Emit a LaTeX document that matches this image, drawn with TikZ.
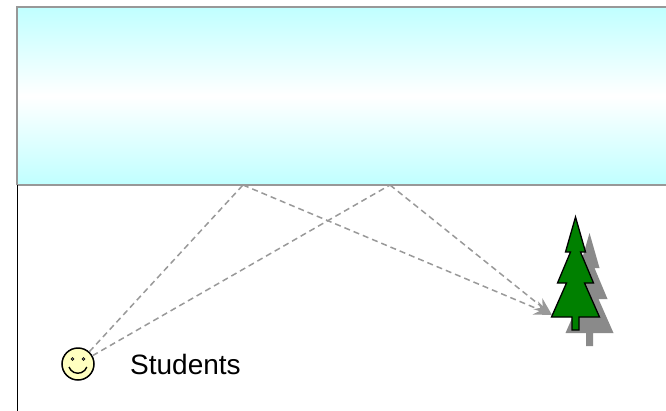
\documentclass[tikz,border=0pt]{standalone}
\usepackage{fontspec}
\newfontfamily\labelfont{Liberation Sans}
\usetikzlibrary{arrows.meta}
\definecolor{skycyan}{HTML}{C0FFFF}
\definecolor{framegray}{HTML}{989898}
\definecolor{raygray}{HTML}{999999}
\definecolor{shadowgray}{HTML}{8A8A8A}
\definecolor{pinegreen}{HTML}{008000}
\definecolor{faceyellow}{HTML}{FFFFC0}
\tikzset{
  ray/.style={draw=raygray, dashed, dash pattern=on 6pt off 4pt, line width=1.5pt},
  raytip/.style={-{Stealth[length=18pt,width=14pt,inset=6pt,fill=raygray]}},
  pine/.pic={
    \path[pic actions] (0,0) -- (10,35) -- (5,35) -- (18,66) -- (9,66) -- (24,100)
      -- (3.5,100) -- (3.5,113) -- (-3.5,113) -- (-3.5,100) -- (-24,100)
      -- (-9,66) -- (-18,66) -- (-5,35) -- (-10,35) -- cycle;
  },
  face/.style={circle, draw=black, line width=1.5pt, fill=faceyellow,
    minimum size=32pt, inner sep=0pt},
  label text/.style={font=\labelfont\fontsize{28}{32}\selectfont, inner sep=0pt},
}
\begin{document}
\begin{tikzpicture}[x=1pt,y=-1pt]
  \useasboundingbox (0,0) rectangle (666,410);
  \begin{scope}
    \clip (0,0) rectangle (666,410);
    % sky band
    \shade[top color=skycyan, bottom color=skycyan, middle color=white]
      (17,7) rectangle (680,185);
    \draw[framegray, line width=1.5pt] (17,185) -- (17,7) -- (680,7);
    \draw[framegray, line width=1.2pt] (17,185) -- (680,185);
    % ground edge
    \draw[black, line width=1.5pt] (17.5,185) -- (17.5,420);
  \end{scope}

  % tree with its shadow
  \pic[fill=shadowgray] at (589.5,233) {pine};
  \pic[fill=pinegreen, draw=black, line width=1.3pt, line join=miter] at (575.5,217) {pine};

  % student
  \node[face] (stud) at (78,364) {};
  \filldraw[fill=gray, line width=0.6pt] (72.5,359) circle (1.5pt);
  \filldraw[fill=gray, line width=0.6pt] (83.5,359) circle (1.5pt);
  \draw[line width=1.4pt] (69,367) arc[start angle=200, end angle=340, radius=9.5pt];
  \node[label text, anchor=base west] (studlabel) at (130,374) {Students};

  % reflection points and target
  \coordinate (r1) at (243,185);
  \coordinate (r2) at (390,185);
  \coordinate (tgt) at (552,315);

  \draw[ray] (stud) -- (r1);
  \draw[ray] (stud) -- (r2);
  \draw[ray, raytip] (r1) -- (tgt);
  \draw[ray, raytip] (r2) -- (tgt);
\end{tikzpicture}
\end{document}
